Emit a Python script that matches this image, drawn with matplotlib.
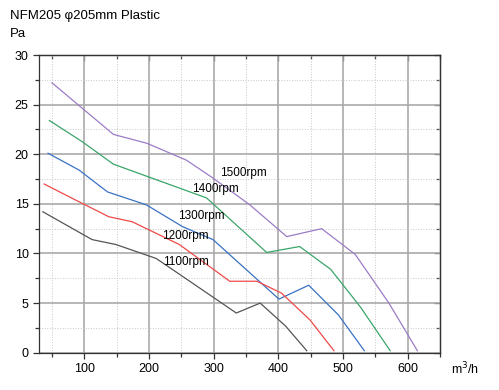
import matplotlib.pyplot as plt
from matplotlib.ticker import MultipleLocator

plt.rcParams['font.family'] = ['Liberation Sans', 'DejaVu Sans']

# flow (m3/h) / pressure (Pa) per speed
x_1500 = [50, 145, 197, 258, 299, 356, 413, 467, 519, 571, 615]
y_1500 = [27.2, 22.0, 21.1, 19.4, 17.6, 14.9, 11.7, 12.5, 9.9, 5.0, 0.2]
x_1400 = [46, 96, 145, 289, 382, 433, 481, 527, 573]
y_1400 = [23.4, 21.3, 19.0, 15.6, 10.1, 10.7, 8.4, 4.6, 0.2]
x_1300 = [44, 92, 136, 196, 252, 299, 401, 447, 493, 533]
y_1300 = [20.1, 18.4, 16.2, 14.9, 12.7, 11.4, 5.4, 6.8, 3.8, 0.2]
x_1200 = [38, 80, 138, 174, 247, 325, 367, 405, 449, 486]
y_1200 = [17.0, 15.6, 13.7, 13.2, 10.9, 7.2, 7.2, 6.0, 3.3, 0.2]
x_1100 = [36, 112, 149, 211, 227, 335, 372, 411, 444]
y_1100 = [14.2, 11.4, 10.9, 9.5, 8.8, 4.0, 5.0, 2.7, 0.2]

labels = ['1500rpm', '1400rpm', '1300rpm', '1200rpm', '1100rpm']
label_x = [310, 266, 245, 220, 222]
label_y = [18.1, 16.5, 13.8, 11.8, 9.1]

series = [(x_1500, y_1500, '#9b7cc6'), (x_1400, y_1400, '#3aa56a'),
          (x_1300, y_1300, '#3a72c4'), (x_1200, y_1200, '#ee4a4a'),
          (x_1100, y_1100, '#555555')]

fig = plt.figure(figsize=(4.99, 3.90), dpi=100)
ax = fig.add_axes([39 / 499, 1 - 352.7 / 390, (440 - 39) / 499, (352.7 - 55) / 390])

for xs, ys, c in series:
    ax.plot(xs, ys, color=c, linewidth=0.9, zorder=3)

for t, lx, ly in zip(labels, label_x, label_y):
    ax.text(lx, ly, t, fontsize=8.5, va='center', ha='left', zorder=4)

ax.set_xlim(30, 650)
ax.set_ylim(0, 30)
ax.xaxis.set_major_locator(MultipleLocator(100))
ax.xaxis.set_minor_locator(MultipleLocator(50))
ax.yaxis.set_major_locator(MultipleLocator(5))
ax.yaxis.set_minor_locator(MultipleLocator(2.5))
ax.set_xticks([100, 200, 300, 400, 500, 600])

ax.grid(which='major', color='#aaaaaa', linewidth=1.2, linestyle='-')
ax.grid(which='minor', color='#c8c8c8', linewidth=0.7, linestyle=':')

ax.tick_params(which='both', direction='out', labelsize=9, length=4, width=0.9, color='#333333')
ax.tick_params(which='minor', length=3)

# inward ticks on top and right, drawn with a secondary axis
for side in ('top', 'right'):
    if side == 'top':
        sec = ax.secondary_xaxis('top')
        sec.xaxis.set_major_locator(MultipleLocator(100))
        sec.xaxis.set_minor_locator(MultipleLocator(50))
    else:
        sec = ax.secondary_yaxis('right')
        sec.yaxis.set_major_locator(MultipleLocator(5))
        sec.yaxis.set_minor_locator(MultipleLocator(2.5))
    sec.tick_params(which='both', direction='in', length=4, width=0.9, color='#333333',
                    labeltop=False, labelright=False)
    sec.tick_params(which='minor', length=3)
    for s in sec.spines.values():
        s.set_color('#333333')
        s.set_linewidth(0.9)

for s in ax.spines.values():
    s.set_color('#333333')
    s.set_linewidth(0.9)

fig.text(10 / 499, 1 - 16 / 390, 'NFM205 φ205mm Plastic', fontsize=9.5, va='center', ha='left')
fig.text(10 / 499, 1 - 34 / 390, 'Pa', fontsize=9.5, va='center', ha='left')
fig.text(451 / 499, 1 - 369 / 390, 'm$^3$/h', fontsize=9, va='center', ha='left')

fig.savefig('out.png', dpi=100)
